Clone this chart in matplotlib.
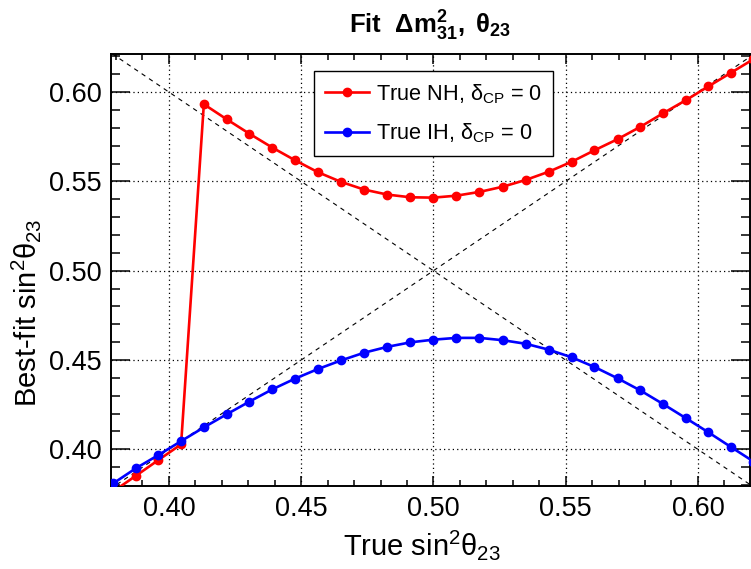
import numpy as np
import matplotlib
matplotlib.use("Agg")
import matplotlib.pyplot as plt
from matplotlib.ticker import MultipleLocator, FormatStrFormatter

# ------------------------------
# Fontes (estilo ROOT / Helvetica)
plt.rcParams['font.family'] = ['Liberation Sans', 'DejaVu Sans']
plt.rcParams['mathtext.fontset'] = 'custom'
plt.rcParams['mathtext.rm'] = 'Liberation Sans'
plt.rcParams['mathtext.it'] = 'Liberation Sans'
plt.rcParams['mathtext.bf'] = 'Liberation Sans:bold'

# ------------------------------
# Dados
true_s23 = [0.3790, 0.3875, 0.3960, 0.4046, 0.4132, 0.4218, 0.4304, 0.4391,
            0.4477, 0.4564, 0.4651, 0.4738, 0.4826, 0.4913, 0.5000, 0.5087,
            0.5174, 0.5262, 0.5349, 0.5436, 0.5523, 0.5609, 0.5696, 0.5782,
            0.5868, 0.5954, 0.6040, 0.6125, 0.6210]

fit_nh = [0.3765, 0.3852, 0.3940, 0.4028, 0.5932, 0.5848, 0.5767, 0.5689,
          0.5618, 0.5551, 0.5497, 0.5454, 0.5426, 0.5411, 0.5409, 0.5420,
          0.5441, 0.5470, 0.5508, 0.5554, 0.5610, 0.5674, 0.5736, 0.5805,
          0.5881, 0.5954, 0.6032, 0.6108, 0.6184]

fit_ih = [0.3810, 0.3894, 0.3968, 0.4046, 0.4123, 0.4196, 0.4267, 0.4336,
          0.4396, 0.4450, 0.4498, 0.4541, 0.4574, 0.4599, 0.4614, 0.4624,
          0.4624, 0.4611, 0.4591, 0.4558, 0.4515, 0.4461, 0.4398, 0.4330,
          0.4254, 0.4175, 0.4095, 0.4013, 0.3932]

label_nh = r'True NH, $\delta_{CP}$ = 0'
label_ih = r'True IH, $\delta_{CP}$ = 0'

# linhas de referência (y = x e y = 1 - x)
diag = np.array([0.3, 0.7])

# ------------------------------
# Figura
fig = plt.figure(figsize=(7.51, 5.69), dpi=100)
ax = fig.add_axes([0.1478, 0.1459, 0.8509, 0.7592])

ax.plot(diag, diag, color='black', lw=0.8, ls=(0, (4, 4)), zorder=2)
ax.plot(diag, 1 - diag, color='black', lw=0.8, ls=(0, (4, 4)), zorder=2)

ax.plot(true_s23, fit_nh, color='#ff0000', lw=1.9, marker='o', ms=6,
        label=label_nh, zorder=3)
ax.plot(true_s23, fit_ih, color='#0000ff', lw=1.9, marker='o', ms=6,
        label=label_ih, zorder=4)

ax.set_xlim(0.3781, 0.6197)
ax.set_ylim(0.3795, 0.6213)

ax.xaxis.set_major_locator(MultipleLocator(0.05))
ax.xaxis.set_minor_locator(MultipleLocator(0.01))
ax.yaxis.set_major_locator(MultipleLocator(0.05))
ax.yaxis.set_minor_locator(MultipleLocator(0.01))
ax.xaxis.set_major_formatter(FormatStrFormatter('%.2f'))
ax.yaxis.set_major_formatter(FormatStrFormatter('%.2f'))

ax.grid(True, which='major', color='black', lw=0.9, ls=(0, (1, 2.5)))

ax.tick_params(which='both', direction='in', top=True, right=True,
               labelsize=19.5, width=1.1, colors='black')
ax.tick_params(axis='x', which='major', length=7, pad=7)
ax.tick_params(axis='x', which='minor', length=4)
ax.tick_params(axis='y', which='major', length=14, pad=7)
ax.tick_params(axis='y', which='minor', length=6.5)

for s in ax.spines.values():
    s.set_linewidth(1.4)

ax.set_xlabel(r'True sin$^{2}\theta_{23}$', fontsize=21)
ax.xaxis.set_label_coords(0.486, -0.098)
ax.set_ylabel(r'Best-fit sin$^{2}\theta_{23}$', fontsize=21)
ax.yaxis.set_label_coords(-0.106, 0.40)

ax.set_title(r'Fit  $\mathbf{\Delta m^{2}_{31},\ \theta_{23}}$', fontsize=18.5,
             fontweight='bold', pad=15)

leg = ax.legend(loc='upper left', bbox_to_anchor=(0.3177, 0.9606),
                borderaxespad=0, fontsize=15.7, frameon=True, fancybox=False,
                edgecolor='black', framealpha=1, handlelength=2.0,
                handletextpad=0.35, labelspacing=0.75, borderpad=0.5)
leg.get_frame().set_linewidth(1.0)

fig.savefig('out.png', dpi=100)
